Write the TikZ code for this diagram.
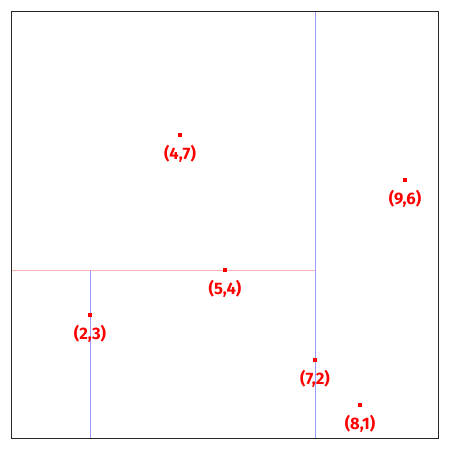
\documentclass[tikz,border=0pt]{standalone}
\usepackage{fontspec}
\setmainfont{Fira Sans}
\begin{document}
\begin{tikzpicture}[
  pt/.style={fill=red, draw=none, minimum size=3pt, inner sep=0pt, rectangle},
  lbl/.style={text=red, font=\fontsize{10.5}{12}\selectfont\bfseries, inner sep=0pt},
  xsplit/.style={draw=blue!40, line width=0.5pt},
  ysplit/.style={draw=red!30, line width=0.5pt},
  frame/.style={draw=black!85, line width=0.9pt}
]
\useasboundingbox (0,0) rectangle (10,10);
\coordinate (bl) at (0.25,0.25);
\coordinate (tr) at (9.75,9.75);
\coordinate (l4) at (0.25,4);
\coordinate (s74) at (7,4);
\coordinate (b7) at (7,0.25);
\coordinate (t7) at (7,9.75);
\coordinate (b2) at (2,0.25);
\coordinate (t2) at (2,4);
\draw[xsplit] (b7) -- (t7);
\draw[ysplit] (l4) -- (s74);
\draw[xsplit] (b2) -- (t2);
\draw[frame] (bl) rectangle (tr);
\foreach \x/\y/\n in {4/7/a,9/6/b,5/4/c,2/3/d,7/2/e,8/1/f}{
  \node[pt] (p\n) at (\x,\y) {};
  \node[lbl] (l\n) at (\x,\y-0.42) {(\x,\y)};
}
\end{tikzpicture}
\end{document}
